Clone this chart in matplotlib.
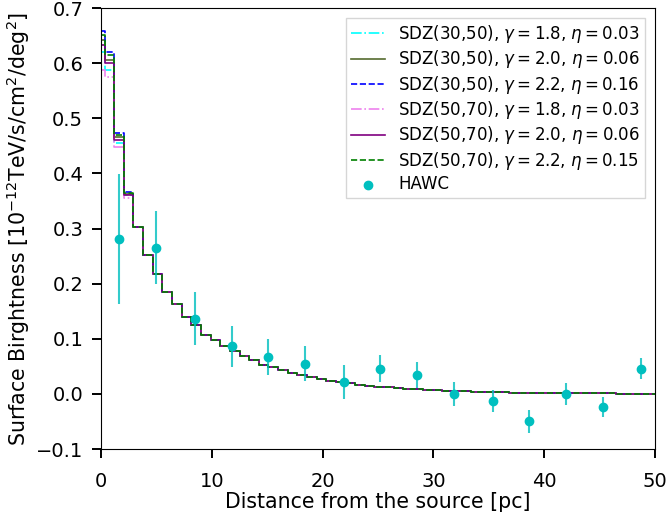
import numpy as np
import matplotlib
matplotlib.use("Agg")
import matplotlib.pyplot as plt

# step-model bins (pc): first bin edge then regular bins of ~0.87 pc
BIN_START = 0.33
BIN_WIDTH = 0.87
N_BINS = 59

# shared tail of the model surface brightness (bins 4..)
TAIL = [0.302, 0.252, 0.217, 0.185, 0.164, 0.140, 0.125, 0.107, 0.098, 0.086,
        0.078, 0.069, 0.061, 0.053, 0.048, 0.043, 0.038, 0.034, 0.030, 0.027,
        0.024, 0.021, 0.019, 0.017, 0.015, 0.013, 0.012, 0.011, 0.0095, 0.0085,
        0.0075, 0.0066, 0.0058, 0.0051, 0.0045, 0.0040, 0.0035, 0.0030, 0.0027,
        0.0024, 0.0021, 0.0019, 0.0017, 0.0015, 0.0013, 0.0012, 0.0011, 0.0010,
        0.0009, 0.0008, 0.0007, 0.0006, 0.0006, 0.0005, 0.0005]

# inner bins differ between models
HEAD_CYAN   = [0.621, 0.587, 0.455, 0.360]
HEAD_OLIVE  = [0.642, 0.606, 0.466, 0.362]
HEAD_BLUE   = [0.659, 0.621, 0.474, 0.367]
HEAD_VIOLET = [0.587, 0.575, 0.448, 0.355]
HEAD_PURPLE = [0.633, 0.600, 0.460, 0.360]
HEAD_GREEN  = [0.651, 0.615, 0.470, 0.365]

LABELS = [r"SDZ(30,50), $\gamma=1.8$, $\eta=0.03$",
          r"SDZ(30,50), $\gamma=2.0$, $\eta=0.06$",
          r"SDZ(30,50), $\gamma=2.2$, $\eta=0.16$",
          r"SDZ(50,70), $\gamma=1.8$, $\eta=0.03$",
          r"SDZ(50,70), $\gamma=2.0$, $\eta=0.06$",
          r"SDZ(50,70), $\gamma=2.2$, $\eta=0.15$"]

# HAWC data
hawc_x   = [1.62, 4.96, 8.48, 11.8, 15.1, 18.4, 21.9, 25.2, 28.5, 31.9, 35.35, 38.65, 42.0, 45.3, 48.7]
hawc_y   = [0.281, 0.265, 0.136, 0.086, 0.067, 0.055, 0.022, 0.046, 0.034, 0.000, -0.013, -0.050, 0.000, -0.024, 0.046]
hawc_err = [0.118, 0.066, 0.048, 0.038, 0.033, 0.032, 0.031, 0.024, 0.023, 0.022, 0.020, 0.021, 0.020, 0.018, 0.019]

edges = np.concatenate([[0.0], BIN_START + BIN_WIDTH * np.arange(N_BINS)])

styles = [("cyan", "-."), ("darkolivegreen", "-"), ("blue", "--"),
          ("violet", "-."), ("purple", "-"), ("green", "--")]
heads = [HEAD_CYAN, HEAD_OLIVE, HEAD_BLUE, HEAD_VIOLET, HEAD_PURPLE, HEAD_GREEN]

fig = plt.figure(figsize=(6.68, 5.2), dpi=100)
ax = fig.add_axes([0.151, 0.1365, 0.8295, 0.848])

for head, (col, ls), lab in zip(heads, styles, LABELS):
    vals = head + TAIL
    vals = vals + [vals[-1]]
    ax.plot(edges[:len(vals)], vals, drawstyle="steps-post", color=col,
            ls=ls, lw=1.2, label=lab)

ax.errorbar(hawc_x, hawc_y, yerr=hawc_err, fmt="none", ecolor="c",
            elinewidth=1.5, alpha=0.8)
ax.scatter(hawc_x, hawc_y, s=36, color="c", label="HAWC", zorder=5)

ax.set_xlim(0, 50)
ax.set_ylim(-0.1, 0.7)
ax.set_yticks(np.arange(-0.1, 0.71, 0.1))
ax.tick_params(labelsize=14, length=6.7, width=1.4, direction="out")
ax.tick_params(axis="x", pad=9.5)
ax.tick_params(axis="y", pad=6)
ax.set_xlabel("Distance from the source [pc]", fontsize=14.8, labelpad=1)
ax.set_ylabel(r"Surface Birghtness [$10^{-12}$TeV/s/cm$^2$/deg$^2$]", fontsize=14.8, labelpad=3)
ax.legend(fontsize=12, loc="upper right", fancybox=False, handlelength=2.0,
          labelspacing=0.2, borderpad=0.3, borderaxespad=0.6)

fig.savefig("out.png", dpi=100)
